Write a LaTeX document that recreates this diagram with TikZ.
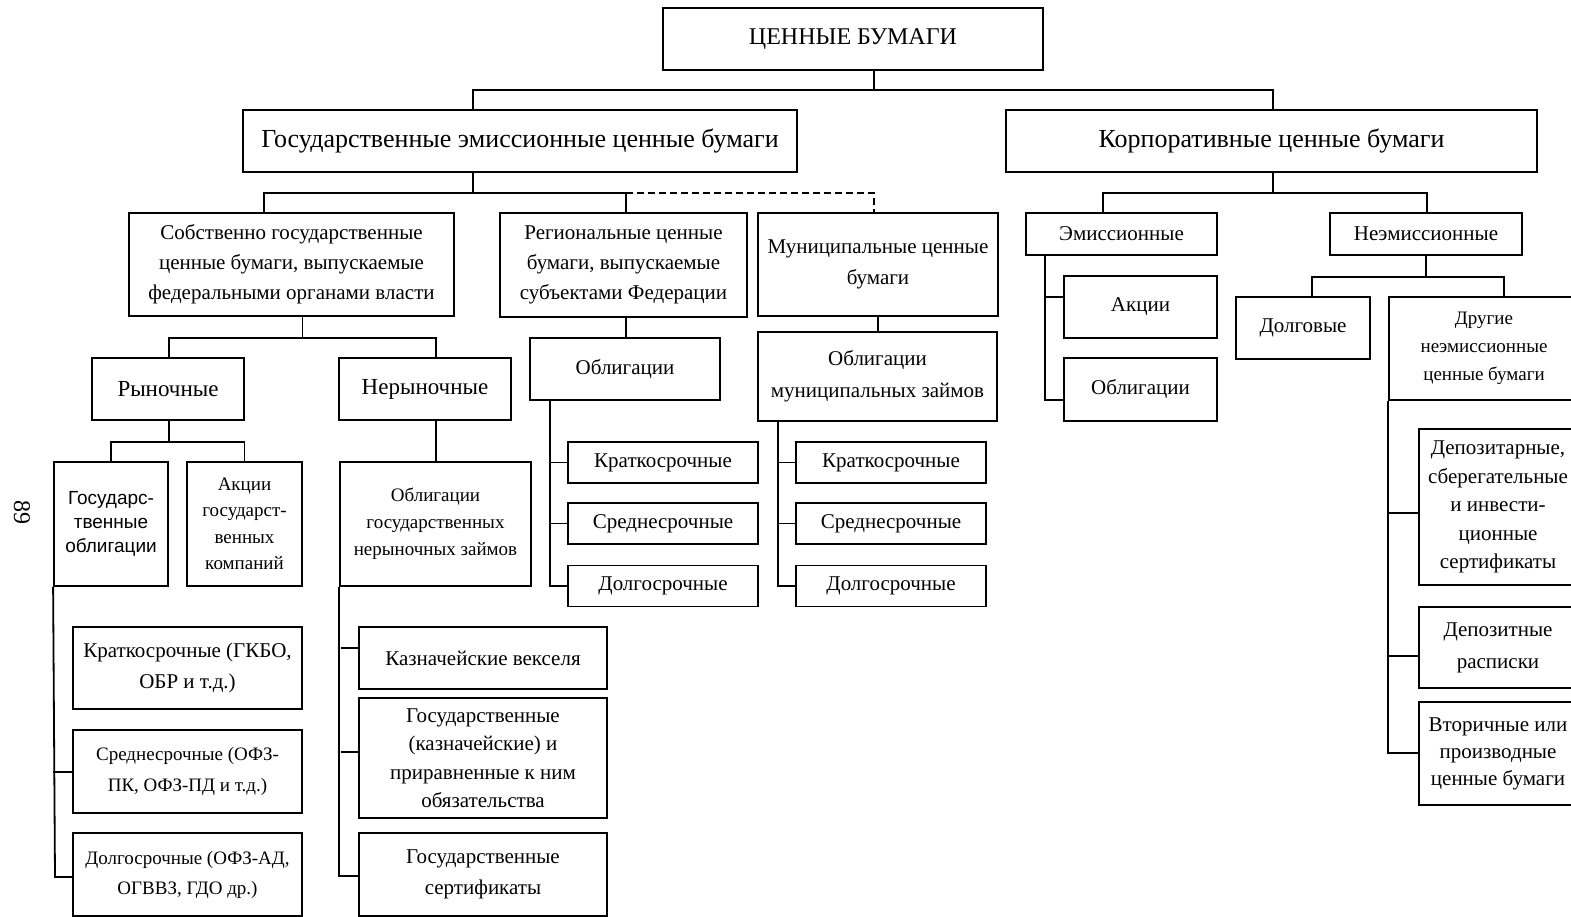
\documentclass[tikz,border=0pt]{standalone}
\usepackage{fontspec}
\setmainfont{Liberation Serif}
\newfontfamily\arialfont{Liberation Sans}
\usepackage{tikz}

\begin{document}
\begin{tikzpicture}[
    x=1pt, y=-1pt,
    font=\fontsize{21}{31}\selectfont,
    box/.style={draw, line width=1.8pt, align=center, inner sep=1pt},
    big/.style={box, minimum height=62, font=\fontsize{26}{30}\selectfont},
    small/.style={box, font=\fontsize{19}{27}\selectfont},
    term/.style={box, minimum width=190, minimum height=41},
    link/.style={line width=1.8pt},
    dlink/.style={link, dash pattern=on 7pt off 4pt},
]
\useasboundingbox (0,0) rectangle (1571,917);

\node[rotate=-90, font=\fontsize{24}{24}\selectfont] (page) at (22,512) {89};

% top levels
\node[box, minimum width=380, minimum height=62, font=\fontsize{24}{28}\selectfont] (root) at (853,39) {ЦЕННЫЕ БУМАГИ};
\node[big, minimum width=554] (gov) at (520,141) {Государственные эмиссионные ценные бумаги};
\node[big, minimum width=531] (corp) at (1271.5,141) {Корпоративные ценные бумаги};

% state branch
\node[box, minimum width=325, minimum height=103, font=\fontsize{21}{30}\selectfont] (fed) at (291.5,264.5) {Собственно государственные\\ценные бумаги, выпускаемые\\федеральными органами власти};
\node[box, minimum width=247, minimum height=104, font=\fontsize{21}{30}\selectfont] (reg) at (623.5,265) {Региональные ценные\\бумаги, выпускаемые\\субъектами Федерации};
\node[box, minimum width=240, minimum height=103] (muni) at (878,264.5) {Муниципальные ценные\\бумаги};

\node[box, minimum width=152, minimum height=62, font=\fontsize{23}{28}\selectfont] (mkt) at (168,389) {Рыночные};
\node[box, minimum width=172, minimum height=62, font=\fontsize{23}{28}\selectfont] (nonmkt) at (425,389) {Нерыночные};

\node[box, minimum width=114, minimum height=124, font=\arialfont\fontsize{19}{24}\selectfont] (govbond) at (111,524) {Государс-\\твенные\\облигации};
\node[small, minimum width=115, minimum height=124, font=\fontsize{19}{26.5}\selectfont] (stateshare) at (244.5,524) {Акции\\государст-\\венных\\компаний};
\node[small, minimum width=191, minimum height=124] (loanbond) at (435.5,524) {Облигации\\государственных\\нерыночных займов};

\node[box, minimum width=229, minimum height=82] (short1) at (187.5,668) {Краткосрочные (ГКБО,\\ОБР и т.д.)};
\node[small, minimum width=229, minimum height=83, font=\fontsize{19}{31}\selectfont] (mid1) at (187.5,771.5) {Среднесрочные (ОФЗ-\\ПК, ОФЗ-ПД и т.д.)};
\node[small, minimum width=229, minimum height=83, font=\fontsize{19}{30}\selectfont] (long1) at (187.5,874.5) {Долгосрочные (ОФЗ-АД,\\ОГВВЗ, ГДО др.)};

\node[box, minimum width=248, minimum height=62] (bills) at (483,658) {Казначейские векселя};
\node[box, minimum width=248, minimum height=120, font=\fontsize{21}{28.5}\selectfont] (duties) at (483,758) {Государственные\\(казначейские) и\\приравненные к ним\\обязательства};
\node[box, minimum width=248, minimum height=83] (certs) at (483,874.5) {Государственные\\сертификаты};

\node[box, minimum width=190, minimum height=62] (regbond) at (625,369) {Облигации};
\node[term] (short2) at (663,462.5) {Краткосрочные};
\node[term] (mid2) at (663,523.5) {Среднесрочные};
\node[term] (long2) at (663,586) {Долгосрочные};

\node[box, minimum width=239, minimum height=89, font=\fontsize{21}{32}\selectfont] (munbond) at (877.5,376.5) {Облигации\\муниципальных займов};
\node[term] (short3) at (891,462.5) {Краткосрочные};
\node[term] (mid3) at (891,523.5) {Среднесрочные};
\node[term] (long3) at (891,586) {Долгосрочные};

% corporate branch
\node[box, minimum width=191, minimum height=42] (emis) at (1121.5,234) {Эмиссионные};
\node[box, minimum width=192, minimum height=42] (nonemis) at (1426,234) {Неэмиссионные};
\node[box, minimum width=153, minimum height=62] (shares) at (1140.5,307) {Акции};
\node[box, minimum width=153, minimum height=63] (bonds) at (1140.5,389.5) {Облигации};
\node[box, minimum width=134, minimum height=62] (debt) at (1303,328) {Долговые};
\node[small, minimum width=190, minimum height=103, font=\fontsize{19}{28}\selectfont] (other) at (1484,348.5) {Другие\\неэмиссионные\\ценные бумаги};
\node[box, minimum width=158, minimum height=156, font=\fontsize{21}{28.5}\selectfont] (depo) at (1498,507) {Депозитарные,\\сберегательные\\и инвести-\\ционные\\сертификаты};
\node[box, minimum width=158, minimum height=81, font=\fontsize{21}{32}\selectfont] (receipt) at (1498,647.5) {Депозитные\\расписки};
\node[box, minimum width=158, minimum height=103, font=\fontsize{21}{27}\selectfont] (deriv) at (1498,753.5) {Вторичные или\\производные\\ценные бумаги};

% connectors
\draw[link] (root.south -| 874,0) -- (874,90);
\draw[link] (gov.north -| 473,0) |- (1273,90) -- (corp.north -| 1273,0);

\draw[link] (gov.south -| 473,0) -- (473,193);
\draw[link] (fed.north -| 264,0) |- (626,193) -- (reg.north -| 626,0);
\draw[dlink] (626,193) -| (muni.north -| 874,0);

\draw[link] (fed.south -| 302.5,0) -- (302.5,338);
\draw[link] (mkt.north -| 169,0) |- (436,338) -- (nonmkt.north -| 436,0);
\draw[link] (mkt.south -| 169,0) -- (169,442);
\draw[link] (govbond.north) |- (stateshare.north |- 0,442) -- (stateshare.north);
\draw[link] (nonmkt.south -| 436,0) -- (loanbond.north -| 436,0);

\draw[link] (govbond.south west) -- (55,877) -- (long1.west |- 0,877);
\draw[link] (53,772) -- (mid1.west |- 0,772);
\draw[link] (loanbond.south west) |- (certs.west |- 0,876);
\draw[link] (341,648) -- (bills.west |- 0,648);
\draw[link] (341,752) -- (duties.west |- 0,752);

\draw[link] (reg.south -| 626,0) -- (regbond.north -| 626,0);
\draw[link] (regbond.south -| 550,0) |- (long2.west);
\draw[link] (short2.west -| 550,0) -- (short2.west);
\draw[link] (mid2.west -| 550,0) -- (mid2.west);

\draw[link] (muni.south -| 878,0) -- (munbond.north -| 878,0);
\draw[link] (munbond.south -| 778,0) |- (long3.west);
\draw[link] (short3.west -| 778,0) -- (short3.west);
\draw[link] (mid3.west -| 778,0) -- (mid3.west);

\draw[link] (corp.south -| 1273,0) -- (1273,193);
\draw[link] (emis.north -| 1103,0) |- (1427,193) -- (nonemis.north -| 1427,0);
\draw[link] (emis.south -| 1045,0) |- (bonds.west |- 0,400);
\draw[link] (1045,297) -- (shares.west |- 0,297);
\draw[link] (nonemis.south) -- (1426,277);
\draw[link] (debt.north -| 1312,0) |- (1504,277) -- (other.north -| 1504,0);
\draw[link] (other.south west) |- (deriv.west |- 0,753);
\draw[link] (1389,513) -- (depo.west |- 0,513);
\draw[link] (1389,656) -- (receipt.west |- 0,656);
\end{tikzpicture}
\end{document}
